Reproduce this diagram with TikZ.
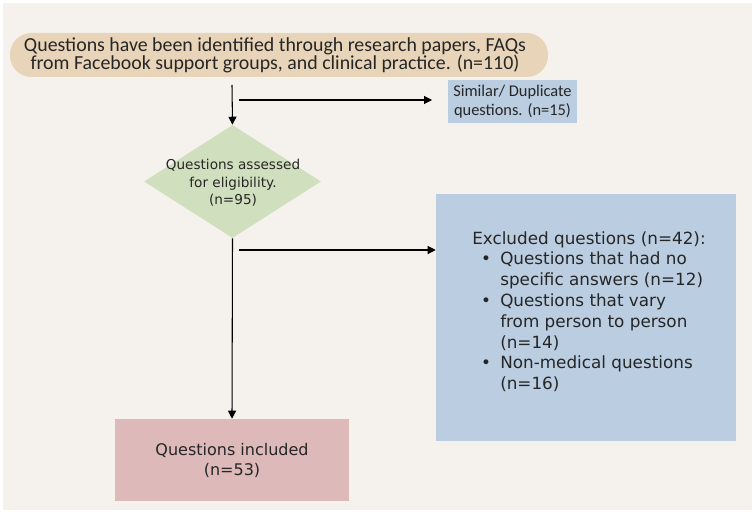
\documentclass[tikz,border=0pt]{standalone}
\usepackage{fontspec}
\setmainfont{DejaVu Sans}
\newfontfamily\topfont{Carlito}
\usetikzlibrary{shapes.geometric,arrows.meta}
\definecolor{bgc}{HTML}{F5F2EE}
\definecolor{tanc}{HTML}{E8D4B8}
\definecolor{bluec}{HTML}{BBCDE1}
\definecolor{greenc}{HTML}{D0E0BE}
\definecolor{pinkc}{HTML}{DDB9B9}
\definecolor{txt}{HTML}{262626}
\tikzset{
  conn/.style={draw=black, line width=0.8pt},
  arr/.style={conn, -{Triangle[length=6pt,width=6pt]}},
  boxtext/.style={text=txt, align=center, inner sep=0pt},
}
\begin{document}
\begin{tikzpicture}[x=0.75pt,y=-0.75pt]
\useasboundingbox (0,0) rectangle (755,513);
\fill[white] (0,0) rectangle (755,513);
\fill[bgc] (3,3) rectangle (752,510);
% top pill
\node[fill=tanc, rounded corners=16pt, minimum width=538*0.75pt, minimum height=44*0.75pt, inner sep=0pt] (top) at (279,55) {};
\node[boxtext, font=\topfont\fontsize{14.9pt}{13.5pt}\selectfont] (toptext) at (275,55) {Questions have been identified through research papers, FAQs\\from Facebook support groups, and clinical practice. (n=110)};
% similar box
\node[fill=bluec, minimum width=129*0.75pt, minimum height=43*0.75pt, inner sep=0pt] (sim) at (512.5,101.5) {};
\node[boxtext, font=\topfont\fontsize{12.3pt}{14pt}\selectfont] at (sim.center) {Similar/ Duplicate\\questions. (n=15)};
% diamond
\node[diamond, fill=greenc, minimum width=177*0.75pt, minimum height=113*0.75pt, inner sep=0pt, aspect=1.57] (dia) at (232.5,181.5) {};
\node[boxtext, font=\fontsize{10.2pt}{13pt}\selectfont] at (233,183) {Questions assessed\\for eligibility.\\(n=95)};
% excluded box
\node[fill=bluec, minimum width=300*0.75pt, minimum height=247*0.75pt, inner sep=0pt] (exc) at (586,317.5) {};
\node[text=txt, inner sep=0pt, anchor=north west, align=left, font=\fontsize{12.6pt}{15.6pt}\selectfont] (exct) at (472,231) {Excluded questions (n=42):\\[0pt]
\hspace*{21pt}\llap{\textbullet\hspace{7pt}}Questions that had no\\
\hspace*{21pt}specific answers (n=12)\\
\hspace*{21pt}\llap{\textbullet\hspace{7pt}}Questions that vary\\
\hspace*{21pt}from person to person\\
\hspace*{21pt}(n=14)\\
\hspace*{21pt}\llap{\textbullet\hspace{7pt}}Non-medical questions\\
\hspace*{21pt}(n=16)};
% included box
\node[fill=pinkc, minimum width=234*0.75pt, minimum height=82*0.75pt, inner sep=0pt] (inc) at (232,460) {};
\node[boxtext, font=\fontsize{12pt}{15pt}\selectfont] at (inc.center) {Questions included\\(n=53)};
% connectors
\coordinate (a1s) at (232,85);
\coordinate (b1s) at (239,100);
\coordinate (b1e) at (432,100);
\coordinate (b2s) at (239,250);
\draw[arr] (a1s) -- (dia.north);
\draw[arr] (b1s) -- (b1e);
\draw[arr] (dia.south) -- (inc.north);
\draw[arr] (b2s) -- (b2s -| exc.west);
\end{tikzpicture}
\end{document}
